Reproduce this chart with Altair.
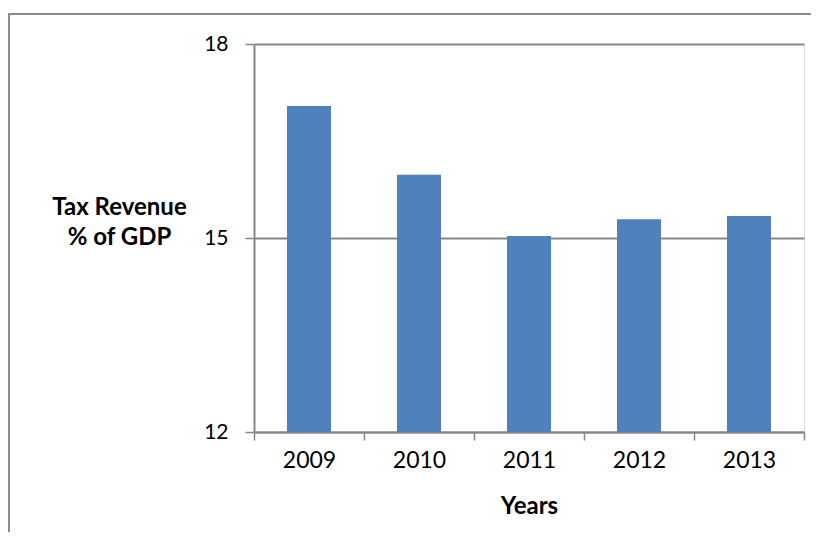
import altair as alt
import pandas as pd

years = ["2009", "2010", "2011", "2012", "2013"]
revenue = [17.04, 15.98, 15.03, 15.29, 15.34]
y_ticks = [12, 15, 18]

df = pd.DataFrame({"Year": years, "Revenue": revenue})
frame_df = pd.DataFrame({"k": [0]})

FONT = "Lato"
GRAY = "#878787"

bars = alt.Chart(df).mark_bar(
    color="#4f81bd", clip=True, width=alt.RelativeBandSize(0.4)
).encode(
    x=alt.X(
        "Year:N",
        sort=years,
        scale=alt.Scale(paddingInner=0, paddingOuter=0),
        axis=alt.Axis(
            title="Years",
            labelAngle=0,
            labelFontSize=23,
            labelFont=FONT,
            labelColor="#000000",
            labelPadding=9,
            tickBand="extent",
            tickSize=8,
            tickWidth=1.5,
            tickColor=GRAY,
            domainColor=GRAY,
            domainWidth=2,
            grid=False,
            titleFont=FONT,
            titleFontSize=24,
            titleFontWeight="bold",
            titleColor="#000000",
            titleBaseline="middle",
            titleY=74,
        ),
    ),
    y=alt.Y(
        "Revenue:Q",
        scale=alt.Scale(domain=[12, 18], nice=False, zero=False),
        axis=alt.Axis(
            values=y_ticks,
            title=["Tax Revenue", "% of GDP"],
            titleAngle=0,
            titleAlign="center",
            titleBaseline="middle",
            titleX=-135,
            titleY=163,
            titleLineHeight=30,
            titleFont=FONT,
            titleFontSize=24,
            titleFontWeight="bold",
            titleColor="#000000",
            labelFontSize=21,
            labelFont=FONT,
            labelColor="#000000",
            labelPadding=17,
            tickSize=9,
            tickWidth=1.5,
            tickColor=GRAY,
            domainColor=GRAY,
            domainWidth=2,
            grid=True,
            gridColor=GRAY,
            gridWidth=2,
        ),
    ),
)

frame = alt.Chart(frame_df).mark_rect(
    filled=False, stroke="#8c8c8c", strokeWidth=2
).encode(
    x=alt.value(-245),
    x2=alt.value(900),
    y=alt.value(-30),
    y2=alt.value(700),
)

chart = alt.layer(frame, bars).properties(
    width=550,
    height=388,
    autosize=alt.AutoSizeParams(type="none"),
    padding={"left": 246, "top": 36, "right": 7, "bottom": 100},
).configure_view(stroke=None).configure(background="white")

chart.save("out.html", embed_options={"renderer": "svg", "actions": False})
